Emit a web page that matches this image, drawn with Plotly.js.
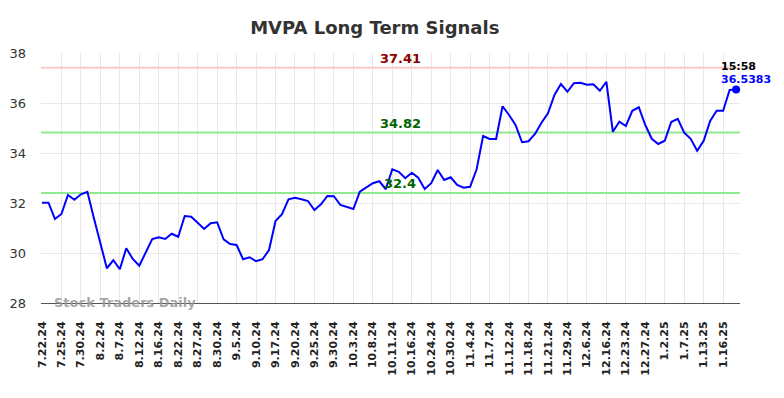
<!DOCTYPE html>
<html>
<head>
<meta charset="utf-8">
<script src="https://cdn.plot.ly/plotly-3.0.1.min.js"></script>
<style>html,body{margin:0;padding:0;background:#fff;}#chart{width:784px;height:398px;}</style>
</head>
<body>
<div id="chart"></div>
<script>
const tickLabels = ["7.22.24","7.25.24","7.30.24","8.2.24","8.7.24","8.12.24","8.16.24","8.22.24","8.27.24","8.30.24","9.5.24","9.10.24","9.17.24","9.20.24","9.25.24","9.30.24","10.3.24","10.8.24","10.11.24","10.16.24","10.24.24","10.30.24","11.4.24","11.7.24","11.12.24","11.18.24","11.21.24","11.29.24","12.6.24","12.16.24","12.23.24","12.27.24","1.2.25","1.7.25","1.13.25","1.16.25"];
const tickStep = 3;
const prices = [32.01,32.01,31.36,31.56,32.32,32.13,32.35,32.45,31.40,30.35,
29.39,29.71,29.35,30.19,29.76,29.49,30.05,30.56,30.63,30.56,
30.77,30.65,31.48,31.45,31.21,30.96,31.19,31.23,30.55,30.36,
30.32,29.75,29.83,29.67,29.75,30.12,31.28,31.55,32.15,32.21,
32.15,32.08,31.72,31.95,32.28,32.27,31.92,31.85,31.76,32.45,
32.63,32.79,32.87,32.55,33.35,33.25,32.99,33.21,33.01,32.56,
32.79,33.32,32.92,33.03,32.72,32.61,32.65,33.35,34.68,34.56,
34.56,35.87,35.52,35.12,34.43,34.47,34.76,35.21,35.59,36.32,
36.76,36.45,36.79,36.81,36.73,36.75,36.49,36.85,34.85,35.25,
35.08,35.69,35.83,35.12,34.57,34.36,34.49,35.24,35.37,34.81,
34.57,34.09,34.49,35.28,35.69,35.69,36.52,36.5383];
const levels = [37.41, 34.82, 32.4];
const levelColors = ["#ffc8c8", "#90e890", "#90e890"];
const levelTextColors = ["#8b0000", "#006400", "#006400"];
const lastTime = "15:58";
const lastLabel = "36.5383";

const idx = prices.map((_, i) => i);
const tickVals = tickLabels.map((_, i) => i * tickStep);
const n = prices.length;
const mid = 55.2;

const traces = [];
levels.forEach((lv, k) => {
  traces.push({x:[-1, n + 1], y:[lv, lv], mode:'lines', line:{color:levelColors[k], width:2}, hoverinfo:'skip', showlegend:false});
});
traces.push({x: idx, y: prices, mode:'lines', line:{color:'#0000ff', width:2}, showlegend:false});
traces.push({x:[n-1], y:[prices[n-1]], mode:'markers', marker:{color:'#0000ff', size:8}, showlegend:false, cliponaxis:false});

const annotations = levels.map((lv, k) => ({
  x: mid, y: lv, xref:'x', yref:'y', text: String(lv), showarrow:false,
  xanchor:'center', yanchor:'bottom', yshift: 0,
  font:{family:'DejaVu Sans', size:13, color:levelTextColors[k], weight:'bold'}
}));
annotations.push({x: n-1, y: prices[n-1], xref:'x', yref:'y', text: lastTime, showarrow:false,
  xanchor:'left', yanchor:'bottom', xshift:-16, yshift:16, borderpad:0,
  font:{family:'DejaVu Sans', size:11, color:'#000000', weight:'bold'}});
annotations.push({x: n-1, y: prices[n-1], xref:'x', yref:'y', text: lastLabel, showarrow:false,
  xanchor:'left', yanchor:'bottom', xshift:-16, yshift:3, borderpad:0,
  font:{family:'DejaVu Sans', size:11, color:'#0000ff', weight:'bold'}});
annotations.push({x: 0.016, y: 0, xref:'paper', yref:'paper', text:'Stock Traders Daily', showarrow:false,
  xanchor:'left', yanchor:'middle', yshift:1,
  font:{family:'DejaVu Sans', size:13, color:'rgba(150,150,150,0.85)', weight:'bold'}});

const layout = {
  width:784, height:398,
  margin:{l:41, r:44, t:53, b:95},
  paper_bgcolor:'#ffffff', plot_bgcolor:'#ffffff',
  title:{text:'MVPA Long Term Signals', x:0.478, xanchor:'center', y:0.93, yanchor:'middle',
    font:{family:'DejaVu Sans', size:18, color:'#333333', weight:'bold'}},
  xaxis:{range:[-0.15, 107.6], tickmode:'array', tickvals:tickVals, ticktext:tickLabels,
    tickangle:-90, showgrid:true, gridcolor:'#e8e8e8', gridwidth:1, zeroline:false,
    showline:true, linecolor:'#555555', linewidth:1, ticks:'', ticklabelstandoff:13,
    tickfont:{family:'DejaVu Sans', size:11, color:'#222222', weight:'bold'}},
  yaxis:{range:[28, 38], tickvals:[28,30,32,34,36,38], showgrid:true, gridcolor:'#e8e8e8', gridwidth:1,
    zeroline:false, showline:false, ticks:'', ticklabelstandoff:14,
    tickfont:{family:'DejaVu Sans', size:13, color:'#333333'}},
  annotations: annotations,
  showlegend:false
};
Plotly.newPlot('chart', traces, layout, {displayModeBar:false, staticPlot:true});
</script>
</body>
</html>
